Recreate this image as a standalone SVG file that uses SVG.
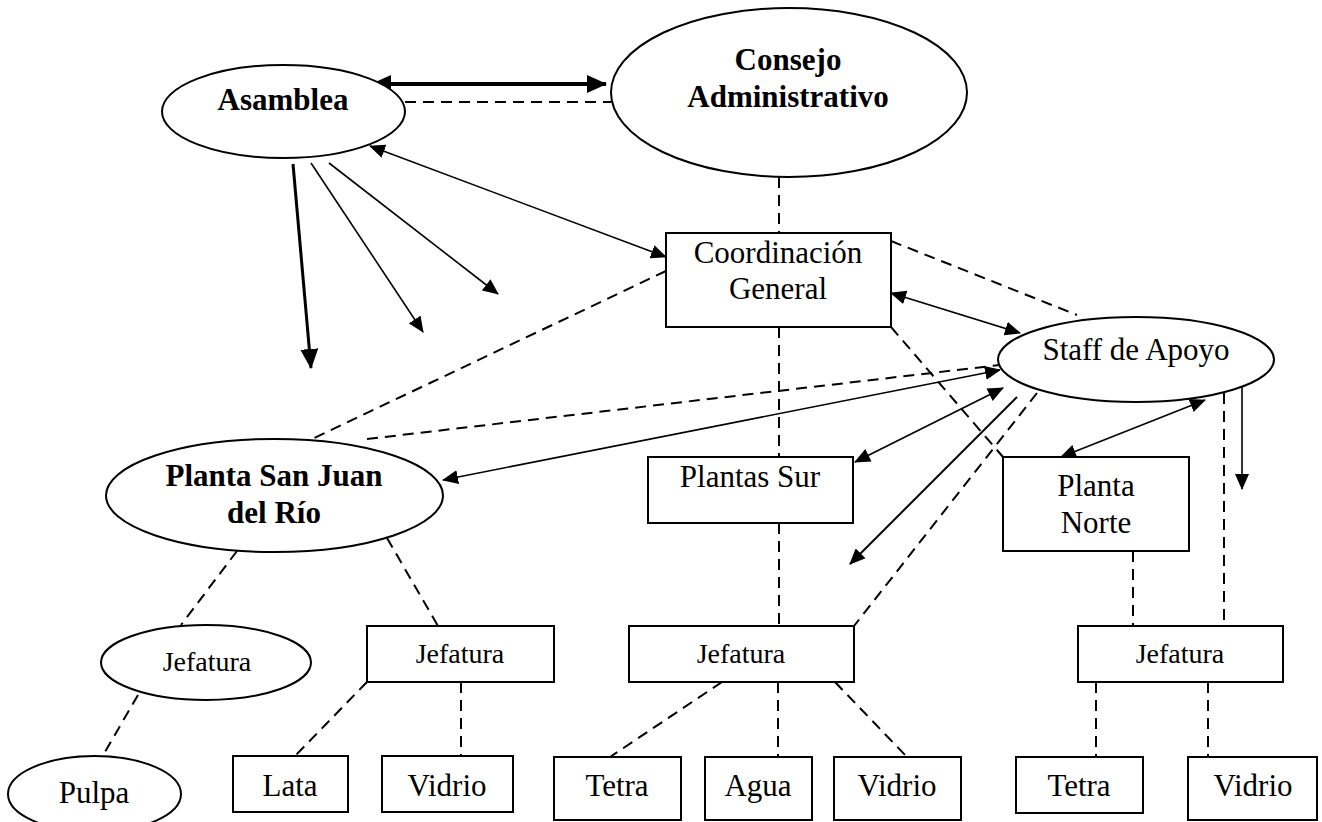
<svg xmlns="http://www.w3.org/2000/svg" width="1322" height="822" viewBox="0 0 1322 822">
<style>
.n{fill:#fff;stroke:#000;stroke-width:2}
.t{font-family:"Liberation Serif","Times New Roman",serif;font-size:31px;fill:#000;text-anchor:middle}
.b{font-weight:bold}
.s{font-size:28px}
.d{fill:none;stroke:#000;stroke-width:2;stroke-dasharray:11 7}
.a{fill:none;stroke:#000;stroke-width:1.6}
</style>
<defs>
<marker id="ah" viewBox="0 0 16 14" refX="15" refY="7" markerWidth="16" markerHeight="14" markerUnits="userSpaceOnUse" orient="auto-start-reverse"><path d="M0,0 L16,7 L0,14 z" fill="#000"/></marker>
<marker id="ahb" viewBox="0 0 20 18" refX="19" refY="9" markerWidth="20" markerHeight="18" markerUnits="userSpaceOnUse" orient="auto-start-reverse"><path d="M0,0 L20,9 L0,18 z" fill="#000"/></marker>
</defs>
<g id="connectors">
<line class="d" x1="405" y1="102" x2="611" y2="102"/>
<line x1="372" y1="84" x2="606" y2="84" stroke="#000" stroke-width="4" marker-start="url(#ahb)" marker-end="url(#ahb)"/>
<line class="a" x1="370" y1="146" x2="666" y2="257" marker-start="url(#ah)" marker-end="url(#ah)"/>
<line x1="293" y1="164" x2="311" y2="368" stroke="#000" stroke-width="3" marker-end="url(#ahb)"/>
<line class="a" x1="311" y1="163" x2="423" y2="332" marker-end="url(#ah)"/>
<line class="a" x1="329" y1="163" x2="498" y2="294" marker-end="url(#ah)"/>
<line class="d" x1="779" y1="177" x2="779" y2="233"/>
<line class="d" x1="666" y1="271" x2="312" y2="439"/>
<line class="d" x1="779" y1="327" x2="779" y2="457"/>
<line class="d" x1="779" y1="523" x2="779" y2="626"/>
<line class="d" x1="891" y1="241" x2="1077" y2="315"/>
<line class="a" x1="891" y1="293" x2="1020" y2="333" marker-start="url(#ah)" marker-end="url(#ah)"/>
<line class="d" x1="891" y1="327" x2="1003" y2="457"/>
<line class="d" x1="367" y1="439" x2="1000" y2="365"/>
<line class="a" x1="443" y1="480" x2="1000" y2="370" marker-start="url(#ah)" marker-end="url(#ah)"/>
<line class="a" x1="855" y1="462" x2="1003" y2="388" marker-start="url(#ah)" marker-end="url(#ah)"/>
<line x1="1017" y1="397" x2="850" y2="564" stroke="#000" stroke-width="2" marker-end="url(#ah)"/>
<line class="d" x1="1037" y1="393" x2="854" y2="626"/>
<line class="a" x1="1061" y1="457" x2="1205" y2="400" marker-start="url(#ah)" marker-end="url(#ah)"/>
<line class="d" x1="1224" y1="393" x2="1224" y2="626"/>
<line class="a" x1="1242" y1="378" x2="1242" y2="489" marker-end="url(#ah)"/>
<line class="d" x1="1133" y1="551" x2="1133" y2="626"/>
<line class="d" x1="237" y1="551" x2="181" y2="625"/>
<line class="d" x1="387" y1="538" x2="438" y2="626"/>
<line class="d" x1="138" y1="695" x2="102" y2="757"/>
<line class="d" x1="367" y1="682" x2="295" y2="756"/>
<line class="d" x1="461" y1="682" x2="461" y2="756"/>
<line class="d" x1="722" y1="682" x2="610" y2="757"/>
<line class="d" x1="778" y1="682" x2="778" y2="757"/>
<line class="d" x1="835" y1="682" x2="907" y2="757"/>
<line class="d" x1="1096" y1="682" x2="1096" y2="757"/>
<line class="d" x1="1208" y1="682" x2="1208" y2="757"/>
</g>
<g id="asamblea"><ellipse class="n" cx="283.5" cy="111.5" rx="121.5" ry="46.5"/><text class="t b" x="283" y="110">Asamblea</text></g>
<g id="consejo"><ellipse class="n" cx="789" cy="92.5" rx="178" ry="84.5"/><text class="t b" x="788" y="70">Consejo</text><text class="t b" x="788" y="107">Administrativo</text></g>
<g id="coordinacion"><rect class="n" x="666" y="233" width="225" height="94"/><text class="t" x="778" y="263">Coordinación</text><text class="t" x="778" y="299">General</text></g>
<g id="staff"><ellipse class="n" cx="1136" cy="359.5" rx="138" ry="42.5"/><text class="t" x="1136" y="360">Staff de Apoyo</text></g>
<g id="sanjuan"><ellipse class="n" cx="274.5" cy="495.5" rx="168.5" ry="56.5"/><text class="t b" x="274" y="486">Planta San Juan</text><text class="t b" x="274" y="523">del Río</text></g>
<g id="plantas-sur"><rect class="n" x="648" y="457" width="205" height="66"/><text class="t" x="750" y="487">Plantas Sur</text></g>
<g id="planta-norte"><rect class="n" x="1003" y="457" width="186" height="94"/><text class="t" x="1096" y="496">Planta</text><text class="t" x="1096" y="533">Norte</text></g>
<g id="jefatura-sj1"><ellipse class="n" cx="206" cy="662.5" rx="105" ry="37.5"/><text class="t s" x="207" y="671">Jefatura</text></g>
<g id="jefatura-sj2"><rect class="n" x="367" y="626" width="187" height="56"/><text class="t s" x="460" y="663">Jefatura</text></g>
<g id="jefatura-sur"><rect class="n" x="629" y="626" width="225" height="56"/><text class="t s" x="741" y="663">Jefatura</text></g>
<g id="jefatura-norte"><rect class="n" x="1078" y="626" width="205" height="56"/><text class="t s" x="1180" y="663">Jefatura</text></g>
<g id="pulpa"><ellipse class="n" cx="94.5" cy="794" rx="86.5" ry="38"/><text class="t" x="94" y="803">Pulpa</text></g>
<g id="lata"><rect class="n" x="233" y="756" width="115" height="56"/><text class="t" x="290" y="796">Lata</text></g>
<g id="vidrio-sj"><rect class="n" x="382" y="756" width="131" height="56"/><text class="t" x="447" y="796">Vidrio</text></g>
<g id="tetra-sur"><rect class="n" x="554" y="757" width="127" height="63"/><text class="t" x="617" y="796">Tetra</text></g>
<g id="agua"><rect class="n" x="705" y="757" width="107" height="63"/><text class="t" x="758" y="796">Agua</text></g>
<g id="vidrio-sur"><rect class="n" x="834" y="757" width="127" height="63"/><text class="t" x="897" y="796">Vidrio</text></g>
<g id="tetra-norte"><rect class="n" x="1016" y="757" width="127" height="56"/><text class="t" x="1079" y="796">Tetra</text></g>
<g id="vidrio-norte"><rect class="n" x="1188" y="757" width="129" height="63"/><text class="t" x="1253" y="796">Vidrio</text></g>
</svg>
